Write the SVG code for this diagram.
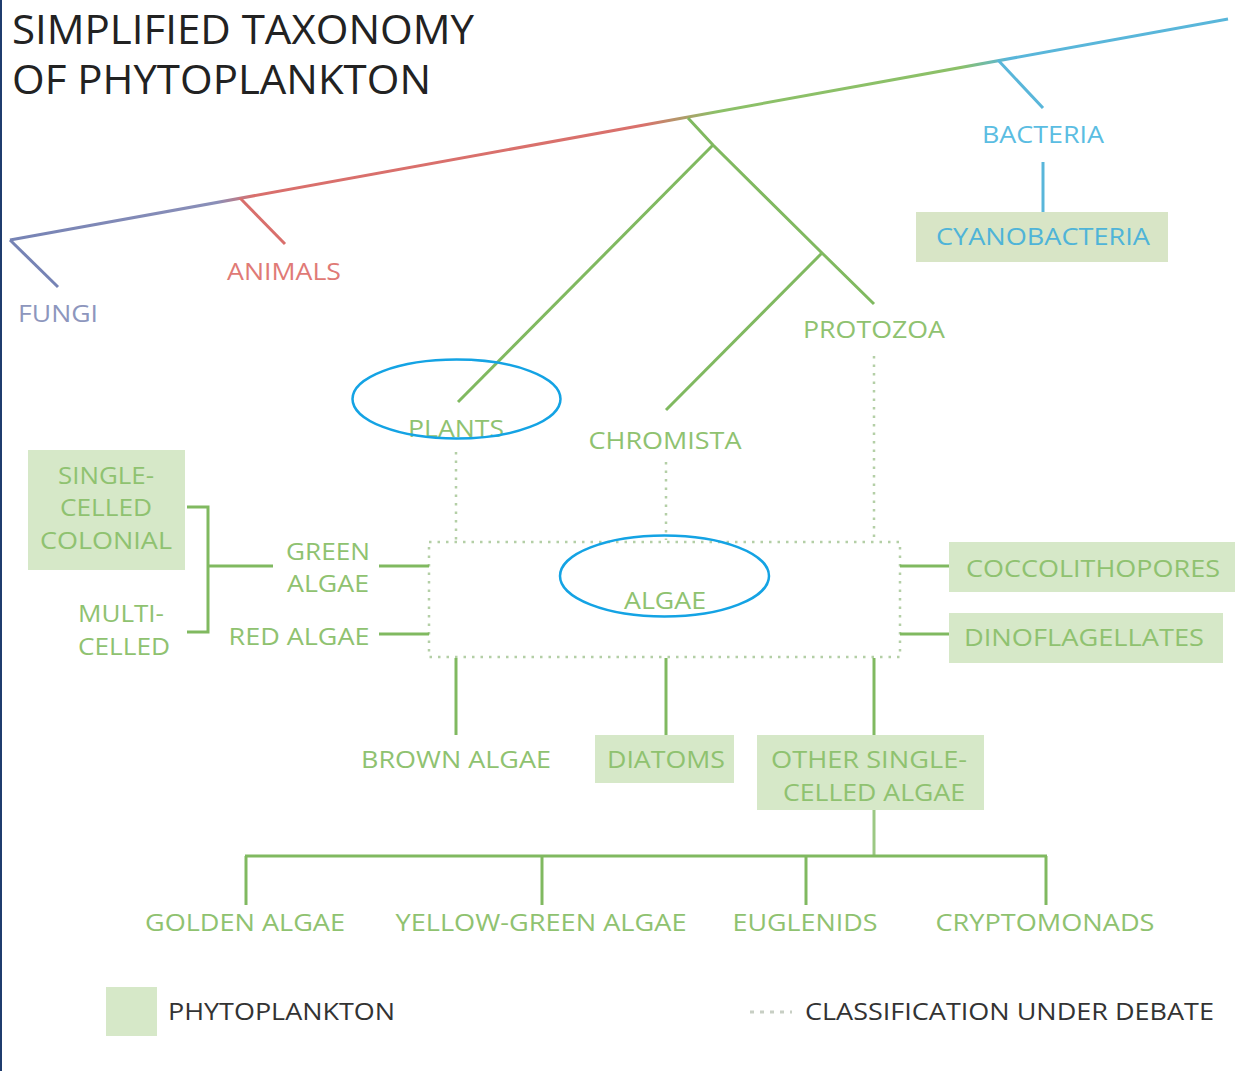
<svg xmlns="http://www.w3.org/2000/svg" width="1248" height="1071" viewBox="0 0 1248 1071">
<defs>
<linearGradient id="trunk" gradientUnits="userSpaceOnUse" x1="10" y1="240" x2="1228" y2="19">
<stop offset="0" stop-color="#7683b5"/>
<stop offset="0.17" stop-color="#8a8fb8"/>
<stop offset="0.2" stop-color="#d96f6c"/>
<stop offset="0.52" stop-color="#d9716c"/>
<stop offset="0.58" stop-color="#8cc068"/>
<stop offset="0.78" stop-color="#8cc068"/>
<stop offset="0.82" stop-color="#59b6da"/>
<stop offset="1" stop-color="#59b6da"/>
</linearGradient>
<style>
text{font-family:"Open Sans","Liberation Sans",sans-serif;}
.t{font-size:24px;fill:#8fc270;text-anchor:middle;}
.g{stroke:#80b960;stroke-width:3;fill:none;}
.gl{stroke:#9cc884;stroke-width:3;fill:none;}
.d{stroke:#b4cfa6;stroke-width:2.5;stroke-dasharray:2.5 6;fill:none;}
.box{fill:#d6e8c8;}
.ell{fill:none;stroke:#14a3e4;stroke-width:2.5;}
.k{font-size:24px;fill:#333;}
</style>
</defs>
<rect x="0" y="0" width="1248" height="1071" fill="#fff"/>
<rect x="0" y="0" width="2" height="1071" fill="#1f3c6e"/>

<g id="title">
<text x="12" y="44" font-size="40" fill="#222" textLength="462" lengthAdjust="spacingAndGlyphs">SIMPLIFIED TAXONOMY</text>
<text x="12" y="94" font-size="40" fill="#222" textLength="419" lengthAdjust="spacingAndGlyphs">OF PHYTOPLANKTON</text>
</g>

<g id="connectors">
<line x1="10" y1="240" x2="1228" y2="19" stroke="url(#trunk)" stroke-width="3"/>
<line x1="10" y1="240" x2="58" y2="287" stroke="#7683b5" stroke-width="3"/>
<line x1="240" y1="198" x2="285" y2="244" stroke="#d96f6c" stroke-width="3"/>
<line x1="998" y1="60" x2="1043" y2="108" stroke="#59b6da" stroke-width="3"/>
<line x1="1043" y1="162" x2="1043" y2="212" stroke="#59b6da" stroke-width="3"/>
<polyline class="g" points="688,118 713,145 822,253 874,304"/>
<line class="g" x1="713" y1="145" x2="458" y2="402"/>
<line class="g" x1="822" y1="253" x2="666" y2="410"/>
<line class="d" x1="456" y1="452" x2="456" y2="540"/>
<line class="d" x1="666" y1="462" x2="666" y2="540"/>
<line class="d" x1="874" y1="356" x2="874" y2="540"/>
<rect class="d" x="429" y="542" width="471" height="115"/>
<polyline class="g" points="187,507 208,507 208,632 187,632"/>
<line class="g" x1="208" y1="566" x2="273" y2="566"/>
<line class="g" x1="379" y1="566" x2="429" y2="566"/>
<line class="g" x1="379" y1="634" x2="429" y2="634"/>
<line class="g" x1="900" y1="566" x2="950" y2="566"/>
<line class="g" x1="900" y1="634" x2="950" y2="634"/>
<line class="g" x1="456" y1="658" x2="456" y2="735"/>
<line class="g" x1="666" y1="658" x2="666" y2="735"/>
<line class="g" x1="874" y1="658" x2="874" y2="735"/>
<line class="gl" x1="874" y1="810" x2="874" y2="856"/>
<line class="g" x1="245" y1="856" x2="1047" y2="856"/>
<line class="g" x1="246" y1="856" x2="246" y2="905"/>
<line class="g" x1="542" y1="856" x2="542" y2="905"/>
<line class="g" x1="806" y1="856" x2="806" y2="905"/>
<line class="g" x1="1046" y1="856" x2="1046" y2="905"/>
</g>

<g id="fungi"><text x="58" y="322" class="t" style="fill:#8d96bd" textLength="80" lengthAdjust="spacingAndGlyphs">FUNGI</text></g>
<g id="animals"><text x="284" y="280" class="t" style="fill:#e07a76" textLength="114" lengthAdjust="spacingAndGlyphs">ANIMALS</text></g>
<g id="bacteria"><text x="1043" y="143" class="t" style="fill:#5bbde2" textLength="122" lengthAdjust="spacingAndGlyphs">BACTERIA</text></g>
<g id="cyanobacteria">
<rect x="916" y="212" width="252" height="50" fill="#d8e5c6"/>
<text x="1043" y="245" class="t" style="fill:#4fb4d8" textLength="214" lengthAdjust="spacingAndGlyphs">CYANOBACTERIA</text>
</g>
<g id="protozoa"><text x="874" y="338" class="t" textLength="142" lengthAdjust="spacingAndGlyphs">PROTOZOA</text></g>
<g id="plants">
<text x="456" y="437" class="t" textLength="96" lengthAdjust="spacingAndGlyphs">PLANTS</text>
<ellipse class="ell" cx="456.5" cy="399" rx="104" ry="39.5"/>
</g>
<g id="chromista"><text x="665" y="449" class="t" textLength="153" lengthAdjust="spacingAndGlyphs">CHROMISTA</text></g>
<g id="algae">
<text x="665" y="609" class="t" textLength="82" lengthAdjust="spacingAndGlyphs">ALGAE</text>
<ellipse class="ell" cx="664.5" cy="576" rx="104.5" ry="40.5"/>
</g>
<g id="single-celled-colonial">
<rect x="28" y="450" width="157" height="120" class="box"/>
<text x="106" y="484" class="t" textLength="96" lengthAdjust="spacingAndGlyphs">SINGLE-</text>
<text x="106" y="516" class="t" textLength="92" lengthAdjust="spacingAndGlyphs">CELLED</text>
<text x="106" y="549" class="t" textLength="132" lengthAdjust="spacingAndGlyphs">COLONIAL</text>
</g>
<g id="multi-celled">
<text x="121" y="622" class="t" textLength="86" lengthAdjust="spacingAndGlyphs">MULTI-</text>
<text x="124" y="655" class="t" textLength="92" lengthAdjust="spacingAndGlyphs">CELLED</text>
</g>
<g id="green-algae">
<text x="328" y="560" class="t" textLength="84" lengthAdjust="spacingAndGlyphs">GREEN</text>
<text x="328" y="592" class="t" textLength="82" lengthAdjust="spacingAndGlyphs">ALGAE</text>
</g>
<g id="red-algae"><text x="299" y="645" class="t" textLength="141" lengthAdjust="spacingAndGlyphs">RED ALGAE</text></g>
<g id="coccolithopores">
<rect x="949" y="542" width="286" height="50" class="box"/>
<text x="1093" y="577" class="t" textLength="254" lengthAdjust="spacingAndGlyphs">COCCOLITHOPORES</text>
</g>
<g id="dinoflagellates">
<rect x="949" y="613" width="274" height="50" class="box"/>
<text x="1084" y="646" class="t" textLength="240" lengthAdjust="spacingAndGlyphs">DINOFLAGELLATES</text>
</g>
<g id="brown-algae"><text x="456" y="768" class="t" textLength="190" lengthAdjust="spacingAndGlyphs">BROWN ALGAE</text></g>
<g id="diatoms">
<rect x="595" y="735" width="139" height="48" class="box"/>
<text x="666" y="768" class="t" textLength="118" lengthAdjust="spacingAndGlyphs">DIATOMS</text>
</g>
<g id="other-single-celled-algae">
<rect x="757" y="735" width="227" height="75" class="box"/>
<text x="869" y="768" class="t" textLength="196" lengthAdjust="spacingAndGlyphs">OTHER SINGLE-</text>
<text x="874" y="801" class="t" textLength="182" lengthAdjust="spacingAndGlyphs">CELLED ALGAE</text>
</g>
<g id="golden-algae"><text x="245" y="931" class="t" textLength="200" lengthAdjust="spacingAndGlyphs">GOLDEN ALGAE</text></g>
<g id="yellow-green-algae"><text x="541" y="931" class="t" textLength="291" lengthAdjust="spacingAndGlyphs">YELLOW-GREEN ALGAE</text></g>
<g id="euglenids"><text x="805" y="931" class="t" textLength="145" lengthAdjust="spacingAndGlyphs">EUGLENIDS</text></g>
<g id="cryptomonads"><text x="1045" y="931" class="t" textLength="219" lengthAdjust="spacingAndGlyphs">CRYPTOMONADS</text></g>

<g id="legend">
<rect x="106" y="987" width="51" height="49" class="box"/>
<text x="168" y="1020" class="k" textLength="227" lengthAdjust="spacingAndGlyphs">PHYTOPLANKTON</text>
<line x1="750" y1="1012" x2="792" y2="1012" stroke="#c8cfc4" stroke-width="3" stroke-dasharray="4 6"/>
<text x="805" y="1020" class="k" textLength="409" lengthAdjust="spacingAndGlyphs">CLASSIFICATION UNDER DEBATE</text>
</g>
</svg>
